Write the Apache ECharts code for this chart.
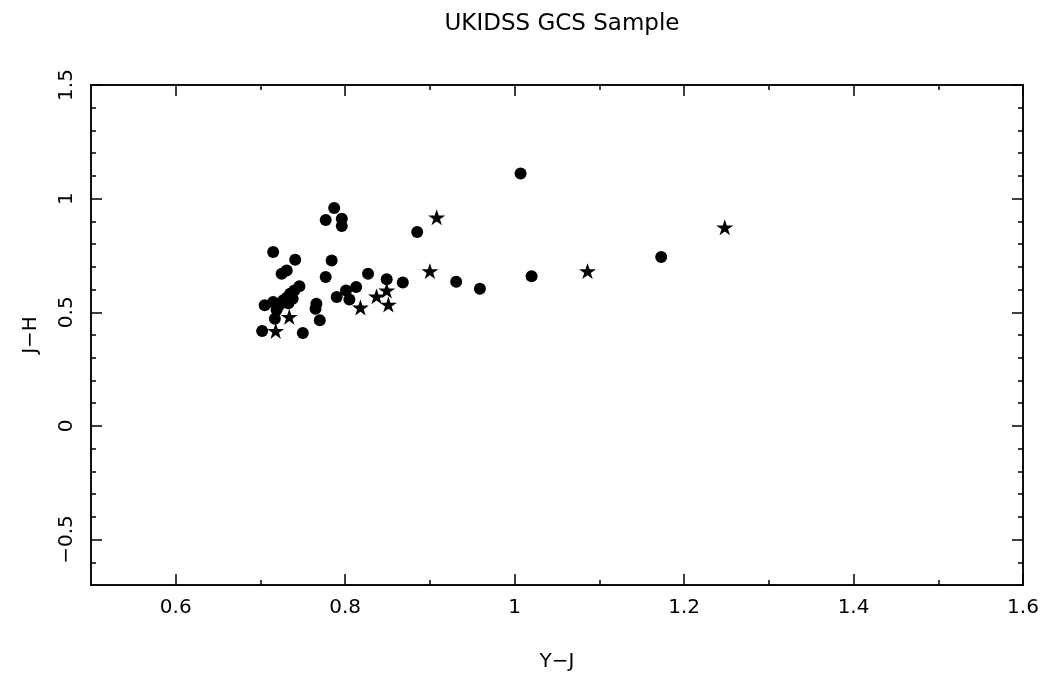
<!DOCTYPE html>
<html>
<head>
<meta charset="utf-8">
<script src="https://cdn.jsdelivr.net/npm/echarts@6/dist/echarts.min.js"></script>
<style>html,body{margin:0;padding:0;background:#fff;}#c{width:1049px;height:677px;}</style>
</head>
<body>
<div id="c"></div>
<script>
const titleText = 'UKIDSS GCS Sample';
const xName = 'Y\u2212J';
const yName = 'J\u2212H';
const xMajor = [0.6, 0.8, 1.0, 1.2, 1.4, 1.6];
const xMinor = [0.7, 0.9, 1.1, 1.3, 1.5];
const yMajor = [-0.5, 0, 0.5, 1, 1.5];
const yMinor = [-0.6, -0.4, -0.3, -0.2, -0.1, 0.1, 0.2, 0.3, 0.4, 0.6, 0.7, 0.8, 0.9, 1.1, 1.2, 1.3, 1.4];

const circleX = [1.007, 1.173, 1.020, 0.959, 0.931, 0.885, 0.868, 0.849, 0.787, 0.777, 0.796, 0.796, 0.715, 0.741, 0.784, 0.731, 0.725, 0.777, 0.827, 0.746, 0.740, 0.735, 0.731, 0.727, 0.715, 0.705, 0.722, 0.719, 0.717, 0.702, 0.750, 0.766, 0.765, 0.770, 0.790, 0.801, 0.813, 0.805, 0.738, 0.733];
const circleY = [1.111, 0.743, 0.659, 0.604, 0.634, 0.853, 0.631, 0.645, 0.959, 0.906, 0.911, 0.880, 0.765, 0.731, 0.728, 0.684, 0.670, 0.655, 0.670, 0.615, 0.596, 0.582, 0.564, 0.553, 0.545, 0.531, 0.531, 0.510, 0.472, 0.418, 0.409, 0.538, 0.516, 0.465, 0.567, 0.596, 0.611, 0.556, 0.560, 0.540];
const starX = [0.908, 0.900, 1.086, 0.849, 0.851, 1.248, 0.734, 0.718, 0.818, 0.837];
const starY = [0.918, 0.681, 0.681, 0.596, 0.534, 0.874, 0.480, 0.418, 0.521, 0.570];

const FONT = '"DejaVu Sans", "Liberation Sans", sans-serif';
const lineStyle = {color: '#000', width: 1.5};

function xAx(pos, ticks, len, labels, name) {
  return {
    type: 'value', position: pos, min: 0.5, max: 1.6,
    axisLine: {show: true, onZero: false, lineStyle: lineStyle},
    axisTick: {show: true, inside: true, length: len, customValues: ticks, lineStyle: lineStyle},
    axisLabel: labels ? {show: true, customValues: xMajor, margin: 13, color: '#000', fontSize: 20, fontFamily: FONT,
      formatter: v => String(Math.round(v * 10) / 10)} : {show: false},
    splitLine: {show: false},
    name: name || '', nameLocation: 'middle', nameGap: 67,
    nameTextStyle: {color: '#000', fontSize: 20, fontFamily: FONT}
  };
}
function yAx(pos, ticks, len, labels, name) {
  return {
    type: 'value', position: pos, min: -0.7, max: 1.5,
    axisLine: {show: true, onZero: false, lineStyle: lineStyle},
    axisTick: {show: true, inside: true, length: len, customValues: ticks, lineStyle: lineStyle},
    axisLabel: labels ? {show: true, customValues: yMajor, rotate: 90, margin: 14, color: '#000', fontSize: 20, fontFamily: FONT,
      formatter: v => (v < 0 ? '\u2212' : '') + String(Math.abs(Math.round(v * 10) / 10))} : {show: false},
    splitLine: {show: false},
    name: name || '', nameLocation: 'middle', nameGap: 50, nameRotate: 90,
    nameTextStyle: {color: '#000', fontSize: 20, fontFamily: FONT}
  };
}

const starPath = 'path://M50,0 L61.8,35.1 L98.9,35.1 L68.8,56.8 L80.2,91.9 L50,70 L19.8,91.9 L31.2,56.8 L1.1,35.1 L38.2,35.1 Z';

const chart = echarts.init(document.getElementById('c'), null, {renderer: 'canvas'});
chart.setOption({
  animation: false,
  backgroundColor: '#fff',
  title: {text: titleText, left: 557, top: 8, textAlign: 'center',
    textStyle: {color: '#000', fontSize: 23, fontWeight: 'normal', fontFamily: FONT}},
  grid: {left: 91, top: 85, right: 26, bottom: 91, containLabel: false},
  xAxis: [
    xAx('bottom', xMajor, 11, true, xName),
    xAx('bottom', xMinor, 5, false),
    xAx('top', xMajor, 11, false),
    xAx('top', xMinor, 5, false)
  ],
  yAxis: [
    yAx('left', yMajor, 11, true, yName),
    yAx('left', yMinor, 5, false),
    yAx('right', yMajor, 11, false),
    yAx('right', yMinor, 5, false)
  ],
  series: [
    {type: 'scatter', xAxisIndex: 0, yAxisIndex: 0, symbol: 'circle', symbolSize: 12,
      itemStyle: {color: '#000', opacity: 1}, data: circleX.map((x, i) => [x, circleY[i]])},
    {type: 'scatter', xAxisIndex: 0, yAxisIndex: 0, symbol: starPath, symbolSize: 17, symbolKeepAspect: true,
      itemStyle: {color: '#000', opacity: 1}, data: starX.map((x, i) => [x, starY[i]])}
  ]
});
</script>
</body>
</html>
